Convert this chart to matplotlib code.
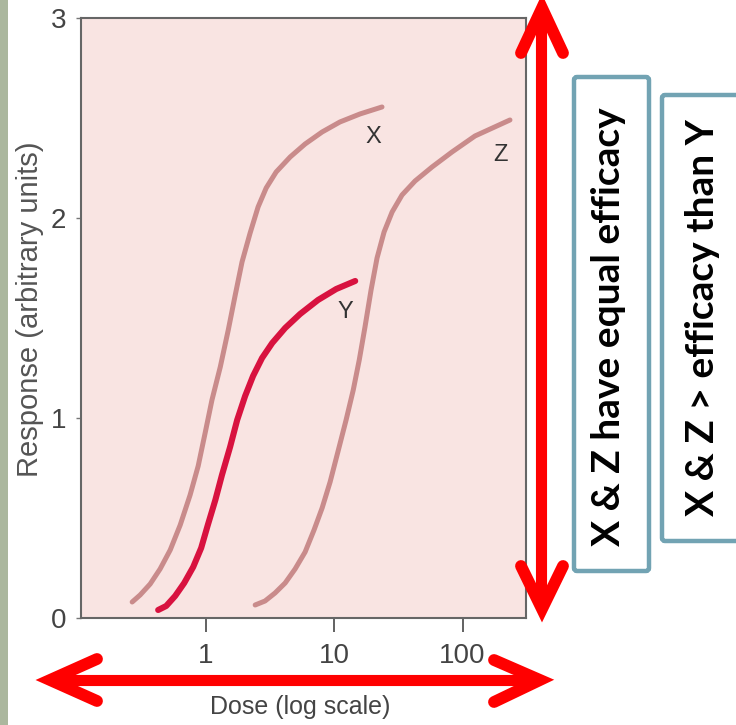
import matplotlib
matplotlib.use("Agg")
import matplotlib.pyplot as plt
from matplotlib.patches import FancyBboxPatch, Rectangle

# dose (log scale) / response values
dose_x = [0.268, 0.309, 0.370, 0.442, 0.530, 0.634, 0.757, 0.875, 0.991, 1.12, 1.30, 1.50,
          1.70, 1.92, 2.22, 2.56, 2.96, 3.54, 4.55, 5.95, 8.07, 11.1, 15.9, 23.6]
resp_x = [0.08, 0.115, 0.17, 0.245, 0.34, 0.465, 0.615, 0.76, 0.925, 1.09, 1.255, 1.44,
          1.615, 1.78, 1.925, 2.055, 2.15, 2.23, 2.305, 2.37, 2.43, 2.48, 2.52, 2.555]

dose_y = [0.427, 0.493, 0.579, 0.681, 0.800, 0.923, 1.04, 1.19, 1.34, 1.55, 1.76, 2.03,
          2.34, 2.75, 3.30, 4.16, 5.44, 7.50, 10.4, 14.6]
resp_y = [0.04, 0.06, 0.11, 0.175, 0.255, 0.35, 0.465, 0.59, 0.715, 0.855, 0.99, 1.11,
          1.21, 1.30, 1.375, 1.45, 1.52, 1.59, 1.645, 1.685]

dose_z = [2.43, 2.90, 3.47, 4.16, 4.97, 5.95, 6.98, 8.07, 9.31, 10.7, 12.4, 14.1, 15.7,
          17.4, 19.4, 21.6, 24.5, 28.3, 33.8, 42.7, 57.9, 82.8, 125, 234]
resp_z = [0.065, 0.085, 0.125, 0.175, 0.245, 0.33, 0.44, 0.55, 0.68, 0.83, 0.99, 1.14, 1.29,
          1.455, 1.64, 1.80, 1.93, 2.03, 2.115, 2.185, 2.255, 2.33, 2.41, 2.49]

xticks = [1, 10, 100]
xticklabels = ['1', '10', '100']
yticks = [0, 1, 2, 3]

sans = ['Liberation Sans', 'DejaVu Sans']

fig = plt.figure(figsize=(7.36, 7.25), dpi=100)
fig.patch.set_facecolor('white')

ax = fig.add_axes([0.110, 0.1476, 0.6047, 0.8276])
ax.set_facecolor('#f9e4e2')

ax.plot(dose_x, resp_x, color='#c98b8b', lw=3.6, solid_capstyle='round', solid_joinstyle='round')
ax.plot(dose_z, resp_z, color='#c98b8b', lw=3.6, solid_capstyle='round', solid_joinstyle='round')
ax.plot(dose_y, resp_y, color='#d8123f', lw=4.4, solid_capstyle='round', solid_joinstyle='round')

ax.text(20.1, 2.405, 'X', fontsize=17, color='#333333', family=sans, ha='center', va='center')
ax.text(12.2, 1.53, 'Y', fontsize=17, color='#333333', family=sans, ha='center', va='center')
ax.text(196, 2.315, 'Z', fontsize=17, color='#333333', family=sans, ha='center', va='center')

ax.set_xscale('log')
ax.set_xlim(0.107, 312)
ax.set_ylim(0, 3)
ax.set_xticks(xticks)
ax.set_xticklabels(xticklabels)
ax.minorticks_off()
ax.set_yticks(yticks)

for s in ax.spines.values():
    s.set_color('#666666')
    s.set_linewidth(1.5)

ax.tick_params(axis='x', length=10, width=1.3, color='#555555', pad=8, labelsize=20, labelcolor='#444444')
ax.tick_params(axis='y', length=3.5, width=1.0, color='#777777', pad=7, labelsize=20, labelcolor='#444444')
for lab in ax.get_xticklabels() + ax.get_yticklabels():
    lab.set_family(sans)

ax.set_xlabel('Dose (log scale)', fontsize=18, color='#444444', family=sans)
ax.set_ylabel('Response (arbitrary units)', fontsize=21, color='#555555', family=sans)
ax.xaxis.set_label_coords(0.492, -0.128)
ax.yaxis.set_label_coords(-0.082, 0.515)

# overlay in pixel coordinates for the slide annotations
ov = fig.add_axes([0, 0, 1, 1])
ov.set_xlim(0, 736)
ov.set_ylim(725, 0)
ov.axis('off')
ov.patch.set_alpha(0)

ov.add_patch(Rectangle((0, 0), 8, 725, color='#abb79e', lw=0))

red = '#ff0000'
# horizontal double arrow
ov.plot([52, 538], [680, 680], color=red, lw=8, solid_capstyle='butt')
ov.plot([97, 50, 97], [659, 680, 701], color=red, lw=8.5, solid_capstyle='round', solid_joinstyle='miter')
ov.plot([494, 540, 494], [660, 680, 702], color=red, lw=8.5, solid_capstyle='round', solid_joinstyle='miter')
# vertical double arrow
ov.plot([541, 541], [10, 606], color=red, lw=8, solid_capstyle='butt')
ov.plot([521, 542, 563], [53, 8, 53], color=red, lw=8.5, solid_capstyle='round', solid_joinstyle='miter')
ov.plot([521, 542, 563], [566, 609, 566], color=red, lw=8.5, solid_capstyle='round', solid_joinstyle='miter')

box_col = '#72a3b3'
ov.add_patch(FancyBboxPatch((574, 77), 75, 494, boxstyle='round,pad=0,rounding_size=3',
                            fc='white', ec=box_col, lw=3.2))
ov.add_patch(FancyBboxPatch((662, 95), 80, 446, boxstyle='round,pad=0,rounding_size=3',
                            fc='white', ec=box_col, lw=3.2))

ov.text(609, 327, 'X & Z have equal efficacy', rotation=90, fontsize=28, fontweight='bold',
        family=['Lato', 'DejaVu Sans'], color='black', ha='center', va='center')
ov.text(703, 318, 'X & Z > efficacy than Y', rotation=90, fontsize=28, fontweight='bold',
        family=['Lato', 'DejaVu Sans'], color='black', ha='center', va='center')

fig.savefig('out.png', dpi=100)
